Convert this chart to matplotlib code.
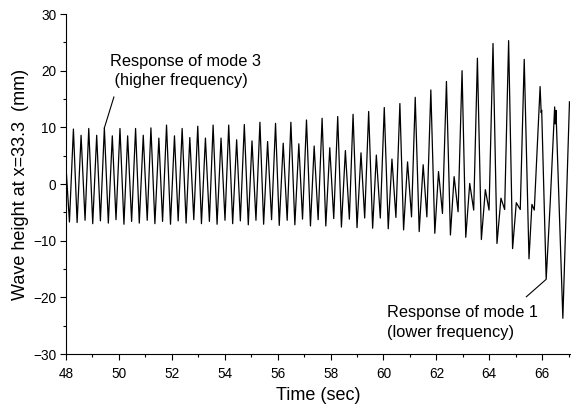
import matplotlib
matplotlib.use("Agg")
import matplotlib.pyplot as plt
import numpy as np

plt.rcParams['font.family'] = ['Liberation Sans', 'DejaVu Sans']

# wave record: crests and troughs of each cycle
start_t = [48.00, 48.13]
start_mm = [3.0, -6.7]

crest_t = [48.28, 48.57, 48.86, 49.16, 49.45, 49.75, 50.04, 50.33, 50.63, 50.92,
           51.21, 51.51, 51.80, 52.10, 52.39, 52.68, 52.98, 53.27, 53.56, 53.86,
           54.15, 54.45, 54.74, 55.03, 55.33, 55.62, 55.92, 56.21, 56.50, 56.80,
           57.09, 57.38, 57.68, 57.97, 58.27, 58.56, 58.85, 59.15, 59.44, 59.73,
           60.03, 60.32, 60.62, 60.91, 61.20, 61.50, 61.79, 62.08, 62.38, 62.67,
           62.97, 63.26, 63.55, 63.85, 64.14, 64.44, 64.73, 65.02, 65.32, 65.61,
           65.92]
crest_mm = [9.7, 8.6, 9.8, 8.6, 9.9, 8.5, 9.8, 8.5, 9.8, 8.6,
            9.9, 8.1, 10.4, 8.5, 9.8, 8.2, 10.2, 8.1, 10.4, 8.1,
            10.4, 7.8, 10.5, 7.6, 10.9, 7.5, 10.7, 7.2, 10.9, 7.1,
            11.3, 6.7, 11.6, 6.4, 11.9, 5.9, 12.3, 5.5, 12.8, 5.1,
            13.5, 4.4, 14.2, 3.9, 15.3, 3.4, 16.6, 2.2, 18.1, 1.3,
            20.0, 0.1, 22.2, -1.0, 24.8, -2.5, 25.3, -3.3, 22.0, -3.6,
            17.2]

trough_t = [48.42, 48.72, 49.01, 49.30, 49.60, 49.89, 50.19, 50.48, 50.77, 51.07,
            51.36, 51.65, 51.95, 52.24, 52.54, 52.83, 53.12, 53.42, 53.71, 54.01,
            54.30, 54.59, 54.89, 55.18, 55.47, 55.77, 56.06, 56.36, 56.65, 56.94,
            57.24, 57.53, 57.82, 58.12, 58.41, 58.71, 59.00, 59.29, 59.59, 59.88,
            60.18, 60.47, 60.76, 61.06, 61.35, 61.64, 61.94, 62.23, 62.53, 62.82,
            63.11, 63.41, 63.70, 63.99, 64.29, 64.58, 64.88, 65.17, 65.50, 65.70]
trough_mm = [-6.8, -6.4, -7.0, -6.5, -6.9, -6.3, -7.1, -6.6, -6.9, -6.4,
             -7.0, -6.6, -7.1, -6.5, -6.9, -6.3, -7.0, -6.6, -7.1, -6.4,
             -7.0, -6.5, -7.2, -6.4, -7.1, -6.3, -7.3, -6.4, -7.2, -6.2,
             -7.4, -6.3, -7.4, -6.1, -7.6, -6.2, -7.7, -6.0, -7.8, -6.0,
             -7.9, -5.9, -8.1, -5.8, -8.4, -5.8, -8.7, -5.2, -9.0, -4.9,
             -9.4, -4.6, -9.8, -4.6, -10.5, -4.5, -11.4, -4.5, -13.2, -4.6]

end_t = [65.96, 65.98, 66.15, 66.30, 66.47, 66.49, 66.52, 66.78, 67.03]
end_mm = [12.6, 13.0, -16.8, -3.5, 13.6, 10.6, 13.0, -23.7, 14.5]

# put crests and troughs in time order
mid_t = np.empty(len(crest_t) + len(trough_t))
mid_mm = np.empty_like(mid_t)
mid_t[0::2] = crest_t
mid_t[1::2] = trough_t
mid_mm[0::2] = crest_mm
mid_mm[1::2] = trough_mm

time = np.concatenate([start_t, mid_t, end_t])
height = np.concatenate([start_mm, mid_mm, end_mm])

fig = plt.figure(figsize=(5.71, 4.07), dpi=100)
ax = fig.add_axes([66/571, 1-354/407, 504/571, 340/407])

ax.plot(time, height, color='black', lw=0.9)

ax.set_xlim(48, 67.05)
ax.set_ylim(-30, 30)
ax.set_xticks(np.arange(48, 67, 2))
ax.set_xticks(np.arange(49, 67.5, 2), minor=True)
ax.set_yticks(np.arange(-30, 31, 10))
ax.set_yticks(np.arange(-25, 30, 10), minor=True)

for s in ['top', 'right']:
    ax.spines[s].set_visible(False)
for s in ['left', 'bottom']:
    ax.spines[s].set_linewidth(0.8)

ax.tick_params(which='major', direction='out', length=4, width=0.8, labelsize=9.8, pad=3)
ax.tick_params(which='minor', direction='out', length=2.5, width=0.8)
ax.tick_params(axis='x', which='major', pad=5)

ax.set_xlabel('Time (sec)', fontsize=13, labelpad=5)
ax.set_ylabel('Wave height at x=33.3  (mm)', fontsize=13, labelpad=3)

# annotations
ax.text(49.66, 20.8, 'Response of mode 3', fontsize=11.8, ha='left', va='baseline')
ax.text(49.66, 17.5, ' (higher frequency)', fontsize=11.8, ha='left', va='baseline')
ax.plot([49.81, 49.45], [15.35, 9.9], color='black', lw=0.8)

ax.text(60.12, -23.5, 'Response of mode 1', fontsize=11.8, ha='left', va='baseline')
ax.text(60.12, -27.0, '(lower frequency)', fontsize=11.8, ha='left', va='baseline')
ax.plot([65.40, 66.13], [-19.9, -16.9], color='black', lw=0.8)

fig.savefig('out.png', dpi=100)
